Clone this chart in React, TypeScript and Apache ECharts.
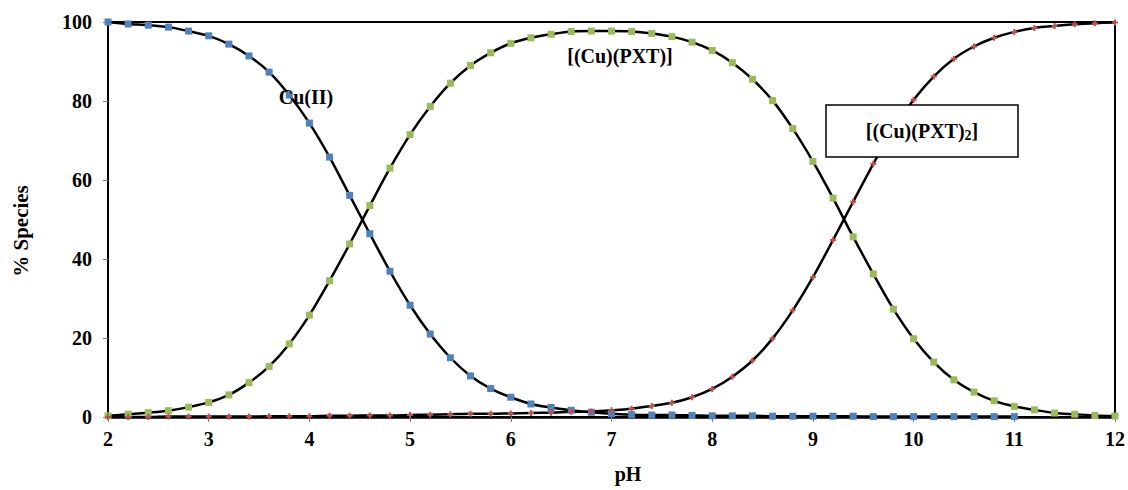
import React, { useEffect, useRef } from "react";
import * as echarts from "echarts";

const pH = [
  2.0, 2.2, 2.4, 2.6, 2.8, 3.0, 3.2, 3.4, 3.6, 3.8,
  4.0, 4.2, 4.4, 4.6, 4.8, 5.0, 5.2, 5.4, 5.6, 5.8,
  6.0, 6.2, 6.4, 6.6, 6.8, 7.0, 7.2, 7.4, 7.6, 7.8,
  8.0, 8.2, 8.4, 8.6, 8.8, 9.0, 9.2, 9.4, 9.6, 9.8,
  10.0, 10.2, 10.4, 10.6, 10.8, 11.0, 11.2, 11.4, 11.6, 11.8,
  12.0,
];

// Cu(II) — measured up to pH 11
const cuFree = [
  100, 99.5, 99.2, 98.7, 97.7, 96.5, 94.4, 91.4, 87.3, 81.5,
  74.4, 65.8, 56.1, 46.4, 36.9, 28.3, 21.0, 15.0, 10.4, 7.2,
  5.0, 3.3, 2.4, 1.7, 1.2, 0.8, 0.6, 0.5, 0.5, 0.4,
  0.3, 0.3, 0.3, 0.2, 0.2, 0.2, 0.2, 0.2, 0.1, 0.1,
  0.1, 0.1, 0.1, 0.1, 0.1, 0.1,
];

// [(Cu)(PXT)]
const cuPxt = [
  0.3, 0.7, 1.1, 1.6, 2.5, 3.7, 5.6, 8.7, 12.8, 18.5,
  25.8, 34.5, 43.8, 53.5, 63.0, 71.5, 78.6, 84.5, 89.0, 92.2,
  94.6, 96.0, 96.9, 97.6, 97.7, 97.7, 97.6, 97.1, 96.3, 94.9,
  92.8, 89.7, 85.5, 80.1, 73.0, 64.7, 55.4, 45.6, 36.2, 27.3,
  19.8, 13.9, 9.4, 6.3, 4.1, 2.7, 1.8, 1.0, 0.7, 0.4,
  0.25,
];

// [(Cu)(PXT)2]
const cuPxt2 = [
  0.0, 0.0, 0.0, 0.1, 0.1, 0.1, 0.1, 0.1, 0.2, 0.2,
  0.2, 0.3, 0.3, 0.4, 0.4, 0.5, 0.6, 0.7, 0.8, 0.8,
  0.9, 1.0, 1.1, 1.3, 1.4, 1.7, 2.1, 2.8, 3.6, 5.0,
  7.1, 10.2, 14.3, 19.9, 27.0, 35.4, 44.8, 54.5, 64.1, 73.0,
  80.3, 86.2, 90.7, 93.8, 96.0, 97.5, 98.5, 99.0, 99.4, 99.7,
  99.9,
];

const xTicks = { min: 2, max: 12, interval: 1 };
const yTicks = { min: 0, max: 100, interval: 20 };

const FONT = '"Liberation Serif", "Times New Roman", serif';

const pair = (vals: number[]) => vals.map((v, i) => [pH[i], v]);

export default function App() {
  const ref = useRef<HTMLDivElement>(null);

  useEffect(() => {
    document.body.style.margin = "0";
    if (!ref.current) return;
    const chart = echarts.init(ref.current, null, { renderer: "svg" });
    const lineStyle = { color: "#000", width: 2.5 };
    const txt = (text: string, x: number, y: number, size: number, rotation = 0) => ({
      type: "text",
      x,
      y,
      rotation,
      style: {
        text,
        font: `bold ${size}px ${FONT}`,
        fill: "#000",
        align: "center",
        verticalAlign: "middle",
      },
      z: 100,
    });
    chart.setOption({
      animation: false,
      backgroundColor: "#fff",
      grid: {
        left: 108,
        right: 11,
        top: 22,
        bottom: 73,
        show: true,
        borderColor: "#000",
        borderWidth: 2,
      },
      xAxis: {
        type: "value",
        min: xTicks.min,
        max: xTicks.max,
        interval: xTicks.interval,
        axisLine: { lineStyle: { color: "#000", width: 2.5 } },
        axisTick: { show: true, inside: false, length: 5, lineStyle: { color: "#808080", width: 1 } },
        axisLabel: { fontFamily: FONT, fontWeight: "bold", fontSize: 20, color: "#000", margin: 12 },
        splitLine: { show: false },
      },
      yAxis: {
        type: "value",
        min: yTicks.min,
        max: yTicks.max,
        interval: yTicks.interval,
        axisLine: { show: true, lineStyle: { color: "#000", width: 2 } },
        axisTick: { show: true, inside: false, length: 5, lineStyle: { color: "#808080", width: 1 } },
        axisLabel: { fontFamily: FONT, fontWeight: "bold", fontSize: 20, color: "#000", margin: 16 },
        splitLine: { show: false },
      },
      series: [
        {
          name: "Cu(II)",
          type: "line",
          smooth: 0.3,
          data: pair(cuFree),
          symbol: "rect",
          symbolSize: 7,
          itemStyle: { color: "#4F81BD" },
          lineStyle,
        },
        {
          name: "[(Cu)(PXT)]",
          type: "line",
          smooth: 0.3,
          data: pair(cuPxt),
          symbol: "rect",
          symbolSize: 7,
          itemStyle: { color: "#9BBB59" },
          lineStyle,
        },
        {
          name: "[(Cu)(PXT)2]",
          type: "line",
          smooth: 0.3,
          data: pair(cuPxt2),
          symbol: "path://M2,0H4V2H6V4H4V6H2V4H0V2H2Z",
          symbolSize: 6,
          itemStyle: { color: "#C0504D" },
          lineStyle,
        },
      ],
      graphic: [
        txt("pH", 628, 474, 20),
        txt("% Species", 21, 231, 21, Math.PI / 2),
        txt("Cu(II)", 306, 97, 20),
        txt("[(Cu)(PXT)]", 620, 56, 20),
        {
          type: "rect",
          shape: { x: 826, y: 105, width: 192, height: 52 },
          style: { fill: "#fff", stroke: "#000", lineWidth: 1.5 },
          z: 100,
        },
        {
          type: "text",
          x: 922,
          y: 131,
          style: {
            text: "[(Cu)(PXT){sub|2}]",
            font: `bold 20px ${FONT}`,
            fill: "#000",
            align: "center",
            verticalAlign: "middle",
            rich: {
              sub: {
                fontFamily: FONT,
                fontWeight: "bold",
                fontSize: 14,
                fill: "#000",
                padding: [9, 0, 0, 0],
              },
            },
          },
          z: 101,
        },
      ],
    });
    return () => chart.dispose();
  }, []);

  return <div ref={ref} style={{ width: 1128, height: 490 }} />;
}
